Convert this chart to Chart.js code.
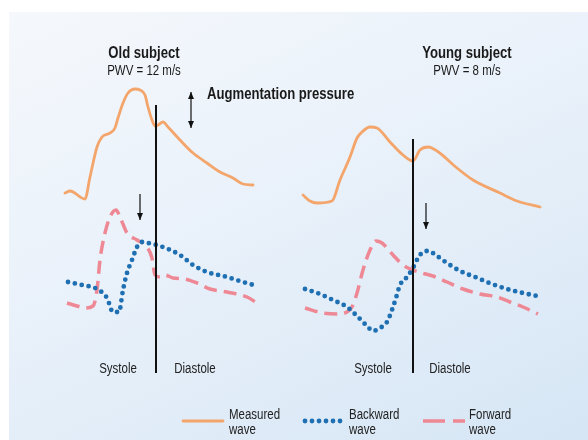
<!DOCTYPE html>
<html>
<head>
<meta charset="utf-8">
<script src="https://cdn.jsdelivr.net/npm/chart.js@4/dist/chart.umd.min.js"></script>
<style>
  html, body { margin: 0; padding: 0; background: #ffffff; }
  #wrap { position: relative; width: 588px; height: 440px; overflow: hidden; }
  #panel {
    position: absolute; left: 9px; top: 12px; width: 579px; height: 428px;
    background: linear-gradient(155deg, #f5f8fc 0%, #e9f1fa 45%, #d6e6f5 100%);
  }
  #c { position: absolute; left: 0; top: 0; }
</style>
</head>
<body>
<div id="wrap">
  <div id="panel"></div>
  <canvas id="c" width="588" height="440"></canvas>
</div>
<script>
// Old subject (left panel)
const oldMeasuredT = [65, 70, 85, 90, 97, 102, 110, 115, 118, 123, 128, 135, 140, 145, 148, 152, 155, 158, 163, 168, 180, 193, 207, 220, 233, 243, 253];
const oldMeasuredP = [247, 249, 241, 263, 293, 303, 307, 312, 322, 337, 347, 351, 350, 345, 333, 320, 314, 315, 318, 313, 300, 287, 277, 268, 262, 256, 255];
const oldBackwardT = [68, 82, 97, 107, 113, 119, 123, 127, 132, 137, 142, 148, 163, 180, 193, 207, 227, 243, 257];
const oldBackwardP = [158, 155, 151, 142, 128, 128, 150, 167, 180, 193, 198, 197, 193, 185, 175, 168, 163, 158, 154];
const oldForwardT = [67, 77, 85, 93, 97, 100, 105, 110, 116, 120, 127, 137, 147, 152, 155, 160, 165, 173, 185, 197, 210, 227, 247, 257];
const oldForwardP = [137, 134, 132, 134, 150, 180, 207, 223, 230, 223, 207, 200, 193, 182, 165, 163, 165, 162, 161, 157, 151, 148, 143, 137];

// Young subject (right panel)
const youngMeasuredT = [303, 310, 317, 332, 340, 350, 357, 362, 370, 377, 390, 403, 413, 420, 428, 437, 457, 473, 500, 517, 540];
const youngMeasuredP = [245, 239, 237, 239, 260, 283, 302, 308, 313, 312, 298, 285, 279, 290, 293, 289, 272, 260, 247, 239, 233];
const youngBackwardT = [305, 320, 333, 347, 357, 367, 373, 380, 387, 392, 396, 400, 407, 413, 418, 423, 428, 437, 447, 460, 475, 492, 507, 523, 537];
const youngBackwardP = [151, 146, 140, 133, 124, 114, 109, 112, 118, 130, 142, 155, 163, 172, 182, 188, 189, 184, 177, 169, 163, 156, 151, 147, 144];
const youngForwardT = [305, 323, 337, 347, 352, 357, 363, 370, 376, 382, 393, 403, 413, 422, 433, 447, 463, 480, 497, 510, 523, 538];
const youngForwardP = [132, 127, 126, 128, 133, 147, 170, 190, 199, 197, 185, 175, 170, 167, 164, 158, 151, 146, 143, 138, 133, 126];

// end of systole (x) with top of the divider line, and bottom of both dividers
const systoleEnd = [156, 413];
const dividerTop = [335, 301];
const dividerBottom = 67;

const titles = ['Old subject', 'Young subject'];
const subtitles = ['PWV = 12 m/s', 'PWV = 8 m/s'];
const legendLabels = [['Measured', 'wave'], ['Backward', 'wave'], ['Forward', 'wave']];

const ORANGE = '#f3a56b';
const BLUE = '#1f6fb3';
const PINK = '#ee8894';
const FONT = '"Liberation Sans", Arial, sans-serif';
const NARROW = 0.82;

function pts(t, p) {
    return t.map((x, i) => ({ x: x, y: p[i] }));
}

const measuredStyle = { borderColor: ORANGE, borderWidth: 2.8, borderDash: [], borderCapStyle: 'round' };
const backwardStyle = { borderColor: BLUE, borderWidth: 4.8, borderDash: [0, 7], borderCapStyle: 'round' };
const forwardStyle = { borderColor: PINK, borderWidth: 3.5, borderDash: [13, 7], borderCapStyle: 'butt' };

function ds(label, data, style) {
    return Object.assign({
        label: label,
        data: data,
        pointRadius: 0,
        fill: false,
        cubicInterpolationMode: 'monotone'
    }, style);
}

// condensed text: squeeze horizontally like a narrow grotesque
function narrowText(ctx, text, x, y) {
    ctx.save();
    ctx.translate(x, y);
    ctx.scale(NARROW, 1);
    ctx.fillText(text, 0, 0);
    ctx.restore();
}

function arrow(ctx, x, y1, y2, both) {
    ctx.beginPath();
    ctx.moveTo(x, y1);
    ctx.lineTo(x, y2);
    ctx.stroke();
    const head = (yTip, dir) => {
        ctx.beginPath();
        ctx.moveTo(x, yTip);
        ctx.lineTo(x - 3, yTip - dir * 7);
        ctx.lineTo(x + 3, yTip - dir * 7);
        ctx.closePath();
        ctx.fill();
    };
    head(y2, 1);
    if (both) head(y1, -1);
}

const overlay = {
    id: 'overlay',
    afterDatasetsDraw(chart) {
        const ctx = chart.ctx;
        const xs = chart.scales.x, ys = chart.scales.y;
        ctx.save();
        ctx.strokeStyle = '#111';
        ctx.fillStyle = '#111';

        // systole / diastole dividers
        ctx.lineWidth = 2;
        systoleEnd.forEach((t, i) => {
            const x = xs.getPixelForValue(t);
            ctx.beginPath();
            ctx.moveTo(x, ys.getPixelForValue(dividerTop[i]));
            ctx.lineTo(x, ys.getPixelForValue(dividerBottom));
            ctx.stroke();
        });

        // arrows
        ctx.lineWidth = 1.2;
        arrow(ctx, xs.getPixelForValue(191), ys.getPixelForValue(348), ys.getPixelForValue(312), true);
        arrow(ctx, xs.getPixelForValue(140), ys.getPixelForValue(246), ys.getPixelForValue(220), false);
        arrow(ctx, xs.getPixelForValue(426), ys.getPixelForValue(237), ys.getPixelForValue(211), false);

        // titles
        ctx.textAlign = 'center';
        ctx.textBaseline = 'alphabetic';
        ctx.fillStyle = '#1a1a1a';
        [144, 467].forEach((cx, i) => {
            const x = xs.getPixelForValue(cx);
            ctx.font = 'bold 16px ' + FONT;
            narrowText(ctx, titles[i], x, ys.getPixelForValue(382));
            ctx.font = '14px ' + FONT;
            narrowText(ctx, subtitles[i], x, ys.getPixelForValue(365));
        });
        ctx.textAlign = 'left';
        ctx.font = 'bold 16px ' + FONT;
        narrowText(ctx, 'Augmentation pressure', xs.getPixelForValue(207), ys.getPixelForValue(341));

        // phase labels
        ctx.textAlign = 'center';
        ctx.font = '14px ' + FONT;
        ctx.fillStyle = '#222';
        [[118, 'Systole'], [195, 'Diastole'], [373, 'Systole'], [450, 'Diastole']].forEach(([t, s]) => {
            narrowText(ctx, s, xs.getPixelForValue(t), ys.getPixelForValue(67));
        });

        // legend
        const styles = [measuredStyle, backwardStyle, forwardStyle];
        const legX = [183, 303, 423];
        const legY = ys.getPixelForValue(19);
        styles.forEach((st, i) => {
            const x0 = xs.getPixelForValue(legX[i]);
            ctx.save();
            ctx.strokeStyle = st.borderColor;
            ctx.lineWidth = st.borderWidth;
            ctx.lineCap = st.borderCapStyle;
            if (i === 2) ctx.setLineDash([22, 8]); else ctx.setLineDash(st.borderDash);
            ctx.beginPath();
            ctx.moveTo(x0 + (i === 1 ? 2 : 0), legY);
            ctx.lineTo(x0 + (i === 2 ? 42 : 40), legY);
            ctx.stroke();
            ctx.restore();
            ctx.textAlign = 'left';
            ctx.font = '14px ' + FONT;
            ctx.fillStyle = '#222';
            narrowText(ctx, legendLabels[i][0], x0 + 46, ys.getPixelForValue(21));
            narrowText(ctx, legendLabels[i][1], x0 + 46, ys.getPixelForValue(6));
        });
        ctx.restore();
    }
};

new Chart(document.getElementById('c'), {
    type: 'line',
    data: {
        datasets: [
            ds('Old measured', pts(oldMeasuredT, oldMeasuredP), measuredStyle),
            ds('Old backward', pts(oldBackwardT, oldBackwardP), backwardStyle),
            ds('Old forward', pts(oldForwardT, oldForwardP), forwardStyle),
            ds('Young measured', pts(youngMeasuredT, youngMeasuredP), measuredStyle),
            ds('Young backward', pts(youngBackwardT, youngBackwardP), backwardStyle),
            ds('Young forward', pts(youngForwardT, youngForwardP), forwardStyle)
        ]
    },
    options: {
        responsive: false,
        animation: false,
        devicePixelRatio: 1,
        layout: { padding: 0 },
        scales: {
            x: { type: 'linear', min: 0, max: 588, display: false },
            y: { type: 'linear', min: 0, max: 440, display: false }
        },
        plugins: {
            legend: { display: false },
            tooltip: { enabled: false }
        }
    },
    plugins: [overlay]
});
</script>
</body>
</html>
